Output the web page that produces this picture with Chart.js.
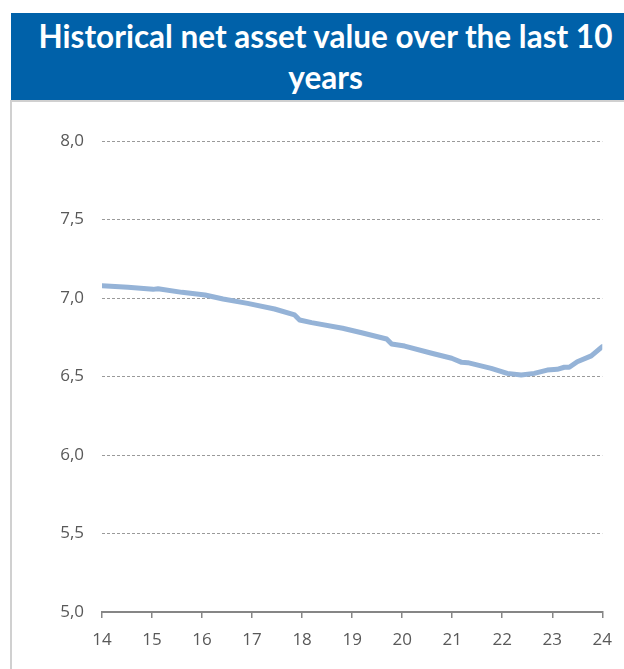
<!DOCTYPE html>
<html>
<head>
<meta charset="utf-8">
<script src="https://cdn.jsdelivr.net/npm/chart.js@4/dist/chart.umd.min.js"></script>
<style>
  body { margin: 0; background: #fff; width: 624px; height: 669px; overflow: hidden; position: relative; }
  #title {
    position: absolute; left: 11px; top: 13px; width: 613px; height: 87px;
    background: #0061a9; color: #fff; text-align: center;
    font-family: "Lato", sans-serif; font-weight: bold; font-size: 31.5px; line-height: 41px;
    padding-top: 3px; padding-left: 16px; box-sizing: border-box; white-space: nowrap;
  }
  #panel {
    position: absolute; left: 10px; top: 100px; width: 614px; height: 569px;
    border-top: 2px solid #d0d0d0; border-left: 2px solid #d0d0d0; box-sizing: border-box;
  }
  #wrap { position: absolute; left: 12px; top: 102px; width: 612px; height: 567px; }
</style>
</head>
<body>
<div id="title">Historical net asset value over the last 10<br>years</div>
<div id="panel"></div>
<div id="wrap"><canvas id="navChart"></canvas></div>
<script>
// valeurs (année décimale -> VL)
const years = [14.00, 14.52, 15.02, 15.12, 15.60, 16.06, 16.42, 16.91, 17.45, 17.85, 17.95, 18.19,
               18.81, 19.19, 19.69, 19.79, 20.05, 20.59, 20.99, 21.19, 21.31, 21.78, 22.10, 22.38,
               22.64, 22.90, 23.10, 23.24, 23.34, 23.50, 23.78, 24.00];
const navValues = [7.078, 7.068, 7.055, 7.059, 7.036, 7.019, 6.994, 6.966, 6.930, 6.892, 6.860, 6.843,
                   6.807, 6.779, 6.739, 6.707, 6.694, 6.648, 6.616, 6.590, 6.588, 6.552, 6.520, 6.510,
                   6.520, 6.541, 6.546, 6.559, 6.559, 6.594, 6.631, 6.690];
const xTicks = [14, 15, 16, 17, 18, 19, 20, 21, 22, 23, 24];
const yTicks = [5.0, 5.5, 6.0, 6.5, 7.0, 7.5, 8.0];

document.addEventListener("DOMContentLoaded", () => {
    const ctx = document.getElementById('navChart').getContext('2d');
    const tickFont = { family: '"Open Sans", sans-serif', size: 17 };

    new Chart(ctx, {
        type: 'line',
        data: {
            datasets: [{
                data: years.map((y, i) => ({ x: y, y: navValues[i] })),
                borderColor: '#95b3d7',
                borderWidth: 5,
                borderCapStyle: 'round',
                borderJoinStyle: 'round',
                pointRadius: 0,
                tension: 0
            }]
        },
        options: {
            responsive: true,
            maintainAspectRatio: false,
            animation: false,
            layout: { padding: { top: 39, right: 21, left: 0, bottom: 0 } },
            plugins: { legend: { display: false }, tooltip: { enabled: false } },
            scales: {
                x: {
                    type: 'linear',
                    min: 14, max: 24,
                    afterBuildTicks: s => { s.ticks = xTicks.map(v => ({ value: v })); },
                    afterFit: s => { s.height = 57; },
                    grid: { drawOnChartArea: false, drawTicks: true, tickLength: 6, color: '#868686', lineWidth: 1.5 },
                    border: { display: true, color: '#868686', width: 2 },
                    ticks: { color: '#595959', font: tickFont, padding: 12, maxRotation: 0 }
                },
                y: {
                    min: 5, max: 8,
                    afterBuildTicks: s => { s.ticks = yTicks.map(v => ({ value: v })); },
                    afterFit: s => { s.width = 90; },
                    grid: {
                        drawTicks: false,
                        color: c => (c.tick && c.tick.value === 5) ? 'rgba(0,0,0,0)' : '#9a9a9a',
                        lineWidth: 1
                    },
                    border: { display: false, dash: [3, 2] },
                    ticks: {
                        color: '#595959', font: tickFont, padding: 18,
                        callback: v => v.toFixed(1).replace('.', ',')
                    }
                }
            }
        }
    });
});
</script>
</body>
</html>
